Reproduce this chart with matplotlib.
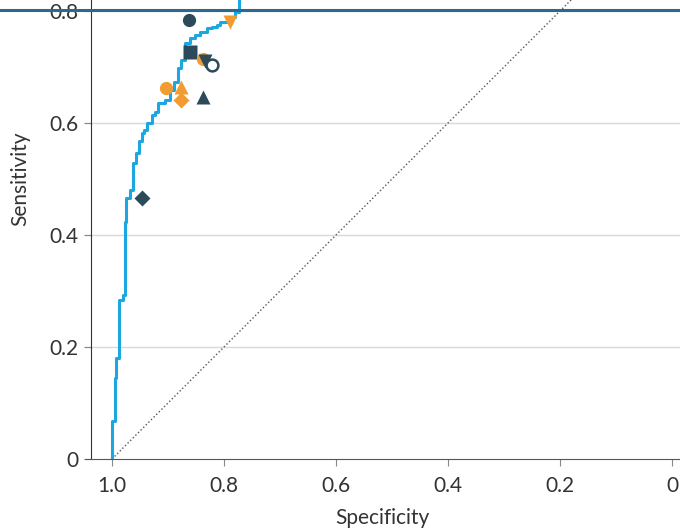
import matplotlib.pyplot as plt
from matplotlib.lines import Line2D

plt.rcParams['font.family'] = ['Lato', 'DejaVu Sans']

# ROC curve (specificity, sensitivity)
roc_spec = [1.0, 1.0, 0.995, 0.995, 0.992, 0.992, 0.988, 0.988, 0.981, 0.981,
            0.977, 0.977, 0.975, 0.975, 0.968, 0.968, 0.963, 0.963, 0.958, 0.958,
            0.951, 0.951, 0.946, 0.946, 0.942, 0.942, 0.937, 0.937, 0.929, 0.929,
            0.923, 0.923, 0.917, 0.917, 0.905, 0.905, 0.896, 0.896, 0.89, 0.89,
            0.882, 0.882, 0.876, 0.876, 0.87, 0.87, 0.861, 0.861, 0.852, 0.852,
            0.843, 0.843, 0.831, 0.831, 0.822, 0.822, 0.813, 0.813, 0.807, 0.807,
            0.789, 0.789, 0.78, 0.78, 0.774, 0.774]
roc_sens = [0.0, 0.067, 0.067, 0.145, 0.145, 0.18, 0.18, 0.284, 0.284, 0.293,
            0.293, 0.424, 0.424, 0.466, 0.466, 0.48, 0.48, 0.528, 0.528, 0.546,
            0.546, 0.567, 0.567, 0.582, 0.582, 0.587, 0.587, 0.6, 0.6, 0.614,
            0.614, 0.62, 0.62, 0.636, 0.636, 0.641, 0.641, 0.659, 0.659, 0.674,
            0.674, 0.698, 0.698, 0.7125, 0.7125, 0.742, 0.742, 0.751, 0.751, 0.757,
            0.757, 0.763, 0.763, 0.769, 0.769, 0.772, 0.772, 0.775, 0.775, 0.781,
            0.781, 0.79, 0.79, 0.799, 0.799, 0.83]

# individual operating points
pt_spec = [0.863, 0.79, 0.861, 0.838, 0.834, 0.822, 0.904, 0.876, 0.876, 0.837, 0.947]
pt_sens = [0.784, 0.781, 0.727, 0.714, 0.711, 0.704, 0.662, 0.664, 0.641, 0.647, 0.466]
pt_marker = ['o', 'v', 's', 'o', 'v', 'o', 'o', '^', 'D', '^', 'D']
pt_group = ['dark', 'orange', 'dark', 'orange', 'dark', 'open', 'orange', 'orange', 'orange', 'dark', 'dark']

xticks = [1.0, 0.8, 0.6, 0.4, 0.2, 0.0]
xticklabels = ['1.0', '0.8', '0.6', '0.4', '0.2', '0']
yticks = [0, 0.2, 0.4, 0.6, 0.8]
yticklabels = ['0', '0.2', '0.4', '0.6', '0.8']

dark = '#2c4a5a'
orange = '#f29b30'
blue = '#1ba8e0'

W, H = 680, 532
fig = plt.figure(figsize=(W / 100, H / 100), dpi=100)
# axes: x from 85px to 680px, y=0 at 459px, 560 px per unit
left_px, right_px = 85, 680
x0_px, y0_px, unit = 112, 459, 560
xl = 1.0 + (x0_px - left_px) / unit
xr = 1.0 - (right_px - x0_px) / unit
ax = fig.add_axes([left_px / W, (H - y0_px) / H, (right_px - left_px) / W, unit / H])
ax.set_xlim(xl, xr)
ax.set_ylim(0, 1.0)

for y in yticks[1:]:
    ax.axhline(y, color='#d9d9d9', lw=1, zorder=0)

ax.plot([1, 0], [0, 1], ls=':', color='#555555', lw=1, zorder=1)
ax.plot(roc_spec, roc_sens, color=blue, lw=2.2, zorder=2)

for s, t, m, g in zip(pt_spec, pt_sens, pt_marker, pt_group):
    ms = 9.5 if m in 'os' else 10.5
    if m == 'D':
        ms = 8
    if g == 'open':
        ax.plot(s, t, marker=m, ms=8.5, mfc='white', mec=dark, mew=1.8, ls='none', zorder=3)
    else:
        c = dark if g == 'dark' else orange
        ax.plot(s, t, marker=m, ms=ms, color=c, mec='none', ls='none', zorder=3)

ax.spines['top'].set_visible(False)
ax.spines['right'].set_visible(False)
ax.spines['left'].set_position(('data', 1.0375))
ax.spines['left'].set_color('#333333')
ax.spines['bottom'].set_color('#555555')
ax.set_xticks(xticks)
ax.set_xticklabels(xticklabels)
ax.set_yticks(yticks)
ax.set_yticklabels(yticklabels)
ax.tick_params(axis='both', labelsize=15, colors='#333333', length=5, width=0.8)
ax.tick_params(axis='x', color='#888888', pad=7)
ax.tick_params(axis='y', color='#888888', pad=4)

ax.set_xlabel('Specificity', fontsize=15, color='#333333', labelpad=9)
ax.set_ylabel('Sensitivity', fontsize=15, color='#333333', labelpad=14)

fig.add_artist(Line2D([0, 1], [1 - 10 / H, 1 - 10 / H], transform=fig.transFigure,
                      color='#2a6a8e', lw=2.2))

fig.savefig('out.png', dpi=100)
